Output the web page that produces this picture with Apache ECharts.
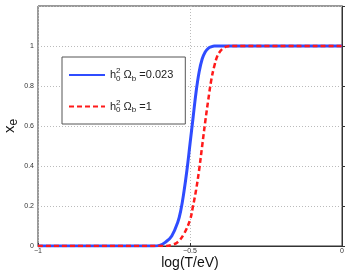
<!DOCTYPE html>
<html><head><meta charset="utf-8">
<script src="https://cdn.jsdelivr.net/npm/echarts@6/dist/echarts.min.js"></script>
<style>html,body{margin:0;padding:0;background:#fff}#c{width:347px;height:273px}</style>
</head><body><div id="c"></div>
<script>
var blueX = [-1, -0.62, -0.6, -0.58, -0.56, -0.54, -0.53, -0.52, -0.51, -0.50, -0.49, -0.48, -0.47, -0.46, -0.45, -0.44, -0.43, -0.42, 0];
var blueY = [0, 0, 0.003, 0.02, 0.05, 0.12, 0.18, 0.27, 0.38, 0.51, 0.64, 0.77, 0.87, 0.935, 0.97, 0.988, 0.996, 1, 1];
var redX = [-1, -0.58, -0.56, -0.54, -0.52, -0.50, -0.49, -0.48, -0.47, -0.46, -0.45, -0.44, -0.43, -0.42, -0.41, -0.40, -0.39, -0.38, -0.37, 0];
var redY = [0, 0, 0.005, 0.02, 0.06, 0.13, 0.2, 0.28, 0.38, 0.5, 0.62, 0.73, 0.83, 0.9, 0.95, 0.975, 0.99, 0.997, 1, 1];
var seriesNames = ['0.023', '1'];
var xTicks = [-1, -0.5, 0];
var yTicks = [0, 0.2, 0.4, 0.6, 0.8, 1];

function zip(a, b) { return a.map(function (v, i) { return [v, b[i]]; }); }
var FONT = 'Liberation Sans, Arial, sans-serif';
var chart = echarts.init(document.getElementById('c'));
chart.setOption({
  animation: false,
  grid: { left: 38, right: 5, top: 6, bottom: 27, show: true, borderColor: '#333', borderWidth: 1, containLabel: false, outerBoundsMode: 'none' },
  legend: {
    orient: 'vertical', left: 62, top: 57, width: 124,
    padding: [10, 12, 10, 6], itemGap: 16, itemWidth: 36, itemHeight: 14,
    backgroundColor: '#fff', borderColor: '#555', borderWidth: 1,
    itemStyle: { opacity: 0 },
    formatter: function (n) {
      return '{h|h}{sp|2}{sb|0} {om|Ω}{sb|b} {t|=' + n + '}';
    },
    textStyle: {
      fontFamily: FONT, color: '#222', fontSize: 11,
      rich: {
        h: { fontFamily: FONT, fontSize: 11, color: '#222' },
        sp: { fontFamily: FONT, fontSize: 8, color: '#222', width: 0, verticalAlign: 'top', padding: [0, 0, 8, 0] },
        sb: { fontFamily: FONT, fontSize: 8, color: '#222', padding: [7, 0, 0, 0] },
        om: { fontFamily: FONT, fontSize: 11, color: '#222' },
        t: { fontFamily: FONT, fontSize: 11, color: '#222' }
      }
    },
    data: seriesNames
  },
  xAxis: {
    type: 'value', min: -1, max: 0, interval: 0.5,
    name: 'log(T/eV)', nameLocation: 'middle', nameGap: 10, nameMoveOverlap: false,
    nameTextStyle: { fontFamily: FONT, fontSize: 14, color: '#111' },
    axisLine: { show: true, lineStyle: { color: '#333', width: 1 } },
    axisTick: { show: true, inside: true, length: 3, lineStyle: { color: '#333' } },
    axisLabel: { fontFamily: FONT, fontSize: 7, color: '#333', margin: 2,
      formatter: function (v) { return xTicks.indexOf(v) >= 0 ? (v < 0 ? '\u2212' + (-v) : String(v)) : ''; } },
    splitLine: { show: true, lineStyle: { color: '#bbb', type: [1, 2], width: 1 } }
  },
  yAxis: {
    type: 'value', min: 0, max: 1.2, interval: 0.2,
    name: '{x|x}{e|e}', nameLocation: 'middle', nameGap: 18, nameRotate: 90, nameMoveOverlap: false,
    nameTextStyle: { fontFamily: FONT, fontSize: 15, color: '#111',
      rich: { x: { fontFamily: FONT, fontSize: 15, color: '#111' },
              e: { fontFamily: FONT, fontSize: 12, color: '#111', padding: [8, 0, 0, 0] } } },
    axisLine: { show: true, lineStyle: { color: '#333', width: 1 } },
    axisTick: { show: true, inside: true, length: 3, lineStyle: { color: '#333' } },
    axisLabel: { fontFamily: FONT, fontSize: 7, color: '#333', margin: 4,
      formatter: function (v) { var r = Math.round(v * 10) / 10; return yTicks.indexOf(r) >= 0 ? String(r) : ''; } },
    splitLine: { show: true, lineStyle: { color: '#bbb', type: [1, 2], width: 1 } }
  },
  series: [
    { name: seriesNames[0], type: 'line', data: zip(blueX, blueY), smooth: 0.4, showSymbol: false, symbol: 'none',
      lineStyle: { color: '#2f4cff', width: 3 }, itemStyle: { color: '#2f4cff' }, z: 3 },
    { name: seriesNames[1], type: 'line', data: zip(redX, redY), smooth: 0.4, showSymbol: false, symbol: 'none',
      lineStyle: { color: '#ff1a1a', width: 2.5, type: [5, 3] }, itemStyle: { color: '#ff1a1a' }, z: 4 }
  ]
});
</script></body></html>
